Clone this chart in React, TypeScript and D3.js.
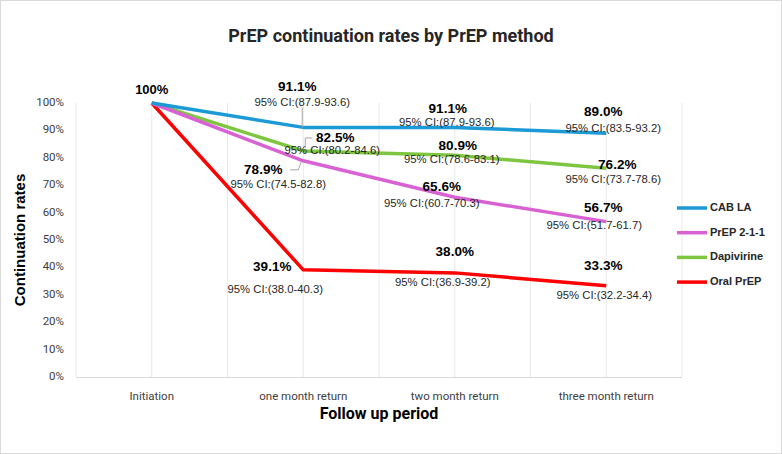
import React, { useEffect, useRef } from 'react';
import * as d3 from 'd3';

const categories = ['Initiation', 'one month return', 'two month return', 'three month return'];
const seriesNames = ['CAB LA', 'PrEP 2-1-1', 'Dapivirine', 'Oral PrEP'];
const cabLA = [100, 91.1, 91.1, 89.0];
const prep211 = [100, 78.9, 65.6, 56.7];
const dapivirine = [100, 82.5, 80.9, 76.2];
const oralPrep = [100, 39.1, 38.0, 33.3];
const cabLACI = [null, [87.9, 93.6], [87.9, 93.6], [83.5, 93.2]];
const prep211CI = [null, [74.5, 82.8], [60.7, 70.3], [51.7, 61.7]];
const dapivirineCI = [null, [80.2, 84.6], [78.6, 83.1], [73.7, 78.6]];
const oralPrepCI = [null, [38.0, 40.3], [36.9, 39.2], [32.2, 34.4]];
const yTicks = [0, 10, 20, 30, 40, 50, 60, 70, 80, 90, 100];

const colors = ['#1b9ad6', '#d862d4', '#7ec540', '#ff0000'];

// label placement (offsets from the point): [valueDx, valueDy, ciDx, ciDy]
const labelOffsets = [
  [null, [-6, -40, -1, -24], [-7, -18, -8, -4], [-3, -21, 7, -4]],
  [null, [-40, 10, -25, 24], [-13, -10, -23, 7], [-3, -13, -12, 4]],
  [null, [32, -13, 29, 0], [3, -9, -3, 5], [11, -3, 7, 12]],
  [null, [-31, -2, -28, 20], [0, -20, -12, 10], [-3, -19, -2, 10]],
];

const W = 782;
const H = 454;
const narrow = '"Liberation Sans Narrow", "Roboto", sans-serif';
const sans = '"Liberation Sans", Arial, sans-serif';

export default function App() {
  const ref = useRef<SVGSVGElement>(null);

  useEffect(() => {
    const svg = d3.select(ref.current);
    svg.selectAll('*').remove();

    const series = [
      { name: seriesNames[0], values: cabLA, ci: cabLACI },
      { name: seriesNames[1], values: prep211, ci: prep211CI },
      { name: seriesNames[2], values: dapivirine, ci: dapivirineCI },
      { name: seriesNames[3], values: oralPrep, ci: oralPrepCI },
    ];

    const x = d3.scaleBand().domain(categories).range([76, 682]);
    const y = d3.scaleLinear().domain([0, 100]).range([377, 103]);
    const cx = (c: string) => (x(c) as number) + x.bandwidth() / 2;

    svg.append('rect').attr('x', 0.5).attr('y', 0.5).attr('width', W - 1).attr('height', H - 1)
      .attr('fill', '#fff').attr('stroke', '#d9d9d9');

    // vertical grid at band edges and centres
    const gridX: number[] = [];
    categories.forEach((c) => { gridX.push(x(c) as number); gridX.push(cx(c)); });
    gridX.push(682);
    svg.append('g').selectAll('line').data(gridX).join('line')
      .attr('x1', (d) => d).attr('x2', (d) => d).attr('y1', 103).attr('y2', 377)
      .attr('stroke', '#e8e8e8').attr('stroke-width', 1);

    svg.append('line').attr('x1', 76).attr('x2', 682).attr('y1', 377.5).attr('y2', 377.5)
      .attr('stroke', '#d9d9d9');

    svg.append('g').selectAll('text').data(yTicks).join('text')
      .attr('x', 64).attr('y', (d) => y(d)).attr('text-anchor', 'end')
      .attr('dominant-baseline', 'middle').attr('font-family', narrow).attr('font-size', 11.5)
      .attr('fill', '#404040').text((d) => `${d}%`);

    svg.append('g').selectAll('text').data(categories).join('text')
      .attr('x', (d) => cx(d)).attr('y', 397).attr('text-anchor', 'middle')
      .attr('dominant-baseline', 'middle').attr('font-family', narrow).attr('font-size', 11.5)
      .attr('fill', '#404040').text((d) => d);

    svg.append('text').attr('x', 391).attr('y', 37).attr('text-anchor', 'middle')
      .attr('dominant-baseline', 'middle').attr('font-family', narrow).attr('font-weight', 'bold')
      .attr('font-size', 18).attr('fill', '#262626').text('PrEP continuation rates by PrEP method');

    svg.append('text').attr('x', 379).attr('y', 415).attr('text-anchor', 'middle')
      .attr('dominant-baseline', 'middle').attr('font-family', narrow).attr('font-weight', 'bold')
      .attr('font-size', 16).attr('fill', '#000').text('Follow up period');

    svg.append('text').attr('transform', 'translate(21,240) rotate(-90)').attr('text-anchor', 'middle')
      .attr('dominant-baseline', 'middle').attr('font-family', sans).attr('font-weight', 'bold')
      .attr('font-size', 15).attr('fill', '#000').text('Continuation rates');

    const line = d3.line<number>().x((_, i) => cx(categories[i])).y((d) => y(d));

    // draw bottom-up so the blue line sits on top like the legend order
    [...series].reverse().forEach((s) => {
      const idx = series.indexOf(s);
      svg.append('path').attr('d', line(s.values)).attr('fill', 'none')
        .attr('stroke', colors[idx]).attr('stroke-width', 3.5).attr('stroke-linejoin', 'round');
    });

    // leader lines
    const leaders = svg.append('g').attr('stroke', '#a6a6a6').attr('fill', 'none').attr('stroke-width', 1);
    const p0 = [cx(categories[1]), y(cabLA[1])];
    leaders.append('path').attr('d', `M${p0[0] - 1},${p0[1] - 20} L${p0[0] - 1},${p0[1]}`);
    const p1 = [cx(categories[1]), y(dapivirine[1])];
    leaders.append('path').attr('d', `M${p1[0] + 9},${p1[1] - 13} L${p1[0] + 2},${p1[1] - 13} L${p1[0] + 2},${p1[1] - 3}`);
    const p2 = [cx(categories[1]), y(prep211[1])];
    leaders.append('path').attr('d', `M${p2[0] - 13},${p2[1] + 9} L${p2[0] - 5},${p2[1] + 9} L${p2[0] - 2},${p2[1] + 1}`);

    svg.append('text').attr('x', cx(categories[0])).attr('y', y(100) - 12).attr('text-anchor', 'middle')
      .attr('dominant-baseline', 'middle').attr('font-family', sans).attr('font-weight', 'bold')
      .attr('font-size', 13).attr('fill', '#000').text('100%');

    series.forEach((s, si) => {
      s.values.forEach((v, i) => {
        const ci = s.ci[i];
        const off = labelOffsets[si][i];
        if (!ci || !off) return;
        const px = cx(categories[i]);
        const py = y(v);
        svg.append('text').attr('x', px + off[0]).attr('y', py + off[1]).attr('text-anchor', 'middle')
          .attr('dominant-baseline', 'middle').attr('font-family', sans).attr('font-weight', 'bold')
          .attr('font-size', 13.5).attr('fill', '#000').text(`${v.toFixed(1)}%`);
        svg.append('text').attr('x', px + off[2]).attr('y', py + off[3]).attr('text-anchor', 'middle')
          .attr('dominant-baseline', 'middle').attr('font-family', sans)
          .attr('font-size', 11.3).attr('fill', '#262626')
          .text(`95% CI:(${ci[0].toFixed(1)}-${ci[1].toFixed(1)})`);
      });
    });

    const legend = svg.append('g').selectAll('g').data(series).join('g')
      .attr('transform', (_, i) => `translate(677,${208 + i * 24.7})`);
    legend.append('line').attr('x1', 0).attr('x2', 30).attr('stroke', (_, i) => colors[i])
      .attr('stroke-width', 3.5);
    legend.append('text').attr('x', 33).attr('dominant-baseline', 'middle').attr('font-family', sans)
      .attr('font-weight', 'bold').attr('font-size', 11).attr('fill', '#262626').text((d) => d.name);
  }, []);

  return (
    <svg ref={ref} width={W} height={H} style={{ position: 'absolute', left: 0, top: 0 }} />
  );
}
